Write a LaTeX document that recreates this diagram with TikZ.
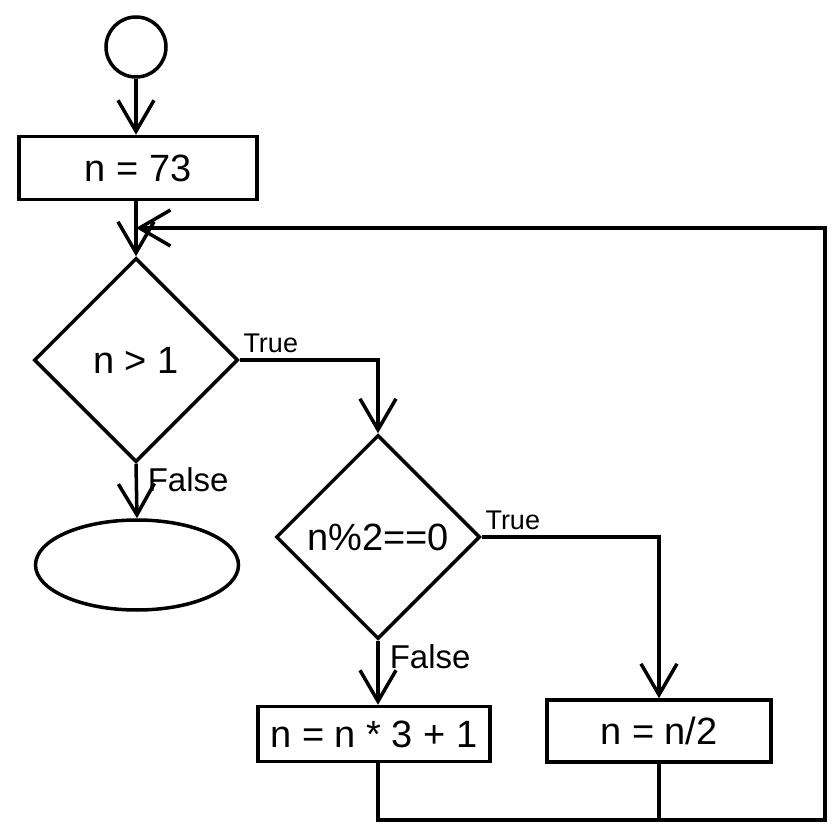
\documentclass[tikz,border=0pt]{standalone}
\usepackage{fontspec}
\setmainfont{Liberation Sans}
\usetikzlibrary{shapes.geometric, arrows.meta, positioning}

\begin{document}
\begin{tikzpicture}[x=1pt, y=-1pt, line width=3.5pt,
    flow/.style={-{Straight Barb[length=31pt, width=36pt]}},
    proc/.style={draw, rectangle, inner sep=0pt, font=\fontsize{38}{42}\selectfont},
    cond/.style={draw, diamond, minimum size=204pt, inner sep=0pt, font=\fontsize{38}{42}\selectfont},
    lbl/.style={font=\fontsize{27}{30}\selectfont, inner sep=2pt},
    nolbl/.style={font=\fontsize{33}{36}\selectfont, inner sep=2pt}]
        \useasboundingbox (0,0) rectangle (839,832);
        \node[draw, circle, minimum size=60pt] (start) at (136, 47) {};
        \node[proc, minimum width=238pt, minimum height=63pt] (init) at (138, 168) {n = 73};
        \node[cond] (test) at (136, 360) {n > 1};
        \node[draw, ellipse, minimum width=203pt, minimum height=90pt] (stop) at (137, 565) {};
        \node[cond] (even) at (378, 537) {n\%2==0};
        \node[proc, minimum width=232pt, minimum height=55pt] (odd) at (374, 734) {n = n * 3 + 1};
        \node[proc, minimum width=224pt, minimum height=62pt] (half) at (659, 731) {n = n/2};
        \coordinate (join) at (136, 228);
        \coordinate (corner) at (825, 820);

        \draw[flow] (start) -- (start |- init.north);
        \draw[flow] (init.south -| test) -- (test.north);
        \draw[flow] (test.east) -| (even.north) node[pos=0, anchor=south west, lbl, yshift=3pt] {True};
        \draw[flow] (test.south) -- (stop.north) node[pos=0, anchor=north west, nolbl, xshift=8pt] {False};
        \draw[flow] (even.east) -| (half.north) node[pos=0, anchor=south west, lbl, yshift=3pt] {True};
        \draw[flow] (even.south) -- (even.south |- odd.north) node[pos=0, anchor=north west, nolbl, xshift=8pt] {False};
        \draw[flow] (odd.south -| even) |- (corner) |- (join);
        \draw (half.south) -- (half.south |- corner);
    \end{tikzpicture}
\end{document}
